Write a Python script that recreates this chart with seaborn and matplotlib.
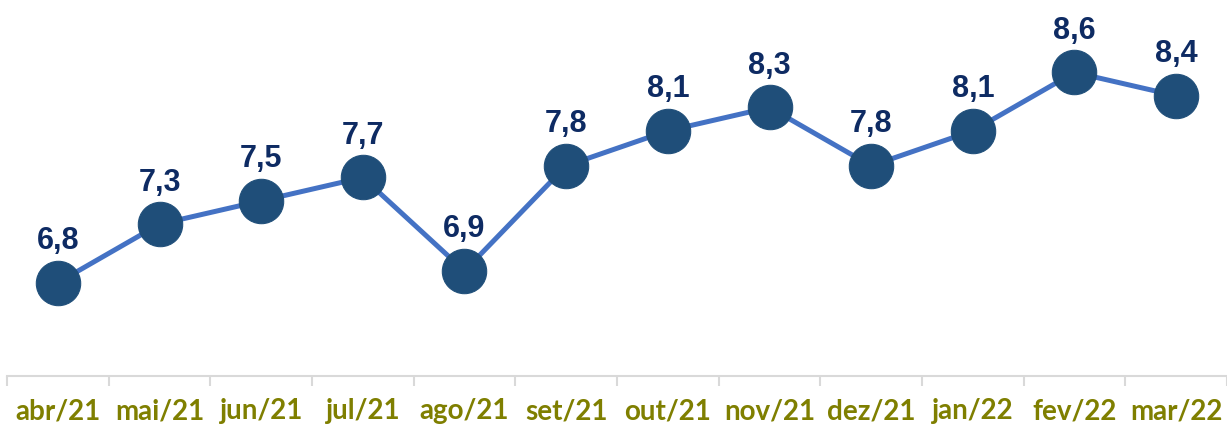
import numpy as np
import pandas as pd
import matplotlib
matplotlib.use("Agg")
import matplotlib.pyplot as plt
import seaborn as sns

# data
months = ["abr/21", "mai/21", "jun/21", "jul/21", "ago/21", "set/21",
          "out/21", "nov/21", "dez/21", "jan/22", "fev/22", "mar/22"]
values = [6.8, 7.3, 7.5, 7.7, 6.9, 7.8, 8.1, 8.3, 7.8, 8.1, 8.6, 8.4]

df = pd.DataFrame({"mes": months, "valor": values})
df["pos"] = np.arange(len(df))

sns.set_theme(style="white")
plt.rcParams["font.family"] = ["Liberation Sans", "DejaVu Sans"]

fig = plt.figure(figsize=(12.27, 4.25), dpi=100)
ax = fig.add_axes([7 / 1227, 1 - 376 / 425, 1 - 7 / 1227, 376 / 425])

sns.lineplot(data=df, x="pos", y="valor", ax=ax, color="#4472c4", linewidth=3.6,
             marker="o", markersize=32, markerfacecolor="#1f4e79",
             markeredgecolor="#1f4e79", zorder=3)

# value labels above each point
for x, v in zip(df["pos"], df["valor"]):
    ax.annotate(f"{v:.1f}".replace(".", ","), (x, v), xytext=(0, 30),
                textcoords="offset points", ha="center", va="center",
                fontsize=22, fontweight="bold", color="#0e2b63")

ax.set_xlim(-0.5, len(months) - 0.5)
ax.set_ylim(6.0, 9.22)
ax.set_xticks(df["pos"])
ax.set_xticklabels(months, fontfamily="Lato", fontweight="bold",
                   fontsize=20, color="#7f7f00")
ax.set_xticks(np.arange(-0.5, len(months), 1), minor=True)
ax.tick_params(axis="x", which="major", length=0, pad=16)
ax.tick_params(axis="x", which="minor", length=7, width=1.5, color="#d9d9d9",
               direction="out", bottom=True)
ax.set_yticks([])
ax.set_xlabel("")
ax.set_ylabel("")
for side in ["top", "right", "left"]:
    ax.spines[side].set_visible(False)
ax.spines["bottom"].set_color("#d9d9d9")
ax.spines["bottom"].set_linewidth(1.5)
ax.patch.set_alpha(0)

fig.savefig("out.png", dpi=100)
